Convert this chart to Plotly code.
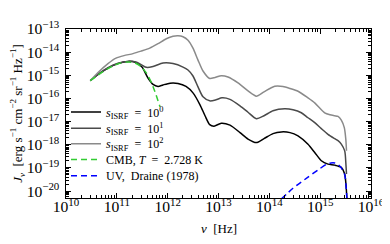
import numpy as np
import plotly.graph_objects as go

# ---- data (log10 values) ----
lognu_s1 = [10.478, 10.630, 10.826, 11.023, 11.220, 11.377, 11.495, 11.613, 11.712, 11.810,
            11.908, 12.046, 12.203, 12.361, 12.498, 12.636, 12.735, 12.827, 12.912, 13.055,
            13.226, 13.423, 13.581, 13.744, 13.895, 14.072, 14.236, 14.407, 14.564, 14.761,
            14.893, 15.023, 15.154, 15.286, 15.416, 15.483, 15.514, 15.532]
logJ_s1 = [-15.232, -14.966, -14.687, -14.494, -14.399, -14.451, -14.644, -15.116, -15.395, -15.481,
           -15.416, -15.339, -15.352, -15.481, -15.760, -16.275, -16.747, -17.133, -17.197, -17.069,
           -17.155, -17.476, -17.755, -17.906, -17.734, -17.519, -17.446, -17.476, -17.618, -17.979,
           -18.335, -18.691, -18.837, -18.880, -18.979, -19.266, -19.910, -20.600]

lognu_s10 = [10.478, 10.630, 10.826, 11.023, 11.220, 11.377, 11.495, 11.580, 11.712, 11.908,
             12.105, 12.302, 12.400, 12.498, 12.597, 12.695, 12.827, 12.951, 13.069, 13.226,
             13.423, 13.581, 13.744, 13.895, 14.072, 14.302, 14.466, 14.629, 14.761, 14.893,
             15.023, 15.154, 15.286, 15.351, 15.416, 15.483, 15.508, 15.518]
logJ_s10 = [-15.232, -14.958, -14.674, -14.481, -14.399, -14.429, -14.558, -14.657, -14.622, -14.472,
            -14.494, -14.644, -14.773, -15.030, -15.502, -15.931, -16.103, -16.060, -15.974, -16.039,
            -16.318, -16.597, -16.876, -16.747, -16.532, -16.446, -16.489, -16.618, -16.833, -17.047,
            -17.305, -17.549, -17.734, -17.820, -17.970, -18.266, -18.893, -19.266]

lognu_s100 = [10.478, 10.630, 10.826, 10.984, 11.141, 11.318, 11.476, 11.647, 11.810, 11.973,
              12.105, 12.203, 12.302, 12.400, 12.498, 12.597, 12.695, 12.827, 12.931, 13.055,
              13.187, 13.384, 13.581, 13.744, 13.895, 14.106, 14.269, 14.407, 14.564, 14.761,
              14.893, 15.089, 15.193, 15.286, 15.351, 15.416, 15.475, 15.505, 15.518]
logJ_s100 = [-15.232, -14.880, -14.494, -14.258, -14.150, -14.064, -13.957, -13.828, -13.635, -13.421,
             -13.313, -13.292, -13.335, -13.485, -13.828, -14.343, -14.815, -15.137, -15.094, -15.017,
             -15.073, -15.330, -15.674, -15.901, -15.717, -15.472, -15.481, -15.567, -15.687, -15.974,
             -16.189, -16.618, -16.704, -16.747, -16.777, -16.940, -17.262, -17.777, -18.262]

lognu_cmb = [10.478, 10.728, 10.925, 11.082, 11.220, 11.357, 11.476, 11.594, 11.692, 11.771, 11.849]
logJ_cmb = [-15.232, -14.845, -14.592, -14.464, -14.421, -14.464, -14.622, -14.944, -15.373, -15.845, -16.361]

lognu_uv = [14.236, 14.466, 14.761, 14.957, 15.121, 15.213, 15.286, 15.351, 15.416, 15.483, 15.514, 15.532]
logJ_uv = [-20.339, -19.880, -19.400, -19.090, -18.850, -18.785, -18.785, -18.850, -19.000, -19.300, -19.910, -20.567]

names = ["<i>s</i><sub>ISRF</sub>  =  10<sup>0</sup>",
         "<i>s</i><sub>ISRF</sub>  =  10<sup>1</sup>",
         "<i>s</i><sub>ISRF</sub>  =  10<sup>2</sup>",
         "CMB, <i>T</i>  =  2.728 K",
         "UV,  Draine (1978)"]
colors = ["#000000", "#4a4a4a", "#8a8a8a", "#33cc33", "#0000ff"]
dashes = ["solid", "solid", "solid", "6px,4px", "6px,4px"]
xs = [lognu_s1, lognu_s10, lognu_s100, lognu_cmb, lognu_uv]
ys = [logJ_s1, logJ_s10, logJ_s100, logJ_cmb, logJ_uv]

FONT = "Liberation Serif"
PLOT_TOP, PLOT_H = 21, 169
legend_rows_px = [104.0, 120.3, 135.8, 151.5, 167.8]

fig = go.Figure()
layout_legends = {}
for i in range(5):
    lg = "legend" if i == 0 else f"legend{i + 1}"
    fig.add_trace(go.Scatter(
        x=10 ** np.array(xs[i]), y=10 ** np.array(ys[i]), mode="lines", name=names[i],
        line=dict(color=colors[i], width=1.5, dash=dashes[i], shape="spline", smoothing=0.7),
        legend=lg,
    ))
    layout_legends[lg] = dict(
        x=0.0, y=1 - (legend_rows_px[i] - PLOT_TOP) / PLOT_H,
        xanchor="left", yanchor="middle", bgcolor="rgba(0,0,0,0)",
        font=dict(family=FONT, size=12, color="black"),
    )

axis_common = dict(
    type="log", showline=True, linecolor="black", linewidth=1.3, mirror="allticks",
    ticks="inside", ticklen=5, tickwidth=1, tickcolor="black", showgrid=False, zeroline=False,
    dtick=1, exponentformat="power", tickfont=dict(family=FONT, size=12.5, color="black"),
    minor=dict(ticks="inside", ticklen=2.5, tickwidth=0.8, tickcolor="black", showgrid=False),
    automargin=False,
)

fig.update_layout(
    width=390, height=244,
    margin=dict(l=58, r=27, t=21, b=54),
    paper_bgcolor="white", plot_bgcolor="white",
    font=dict(family=FONT, size=12, color="black"),
    showlegend=True,
    xaxis=dict(axis_common, range=[10, 16], ticklabelstandoff=-5),
    yaxis=dict(axis_common, range=[-20.3, -13], ticklabelstandoff=3,
               title=dict(text="<i>J<sub>ν</sub></i>  [erg s<sup>−1</sup> cm<sup>−2</sup> sr<sup>−1</sup> Hz<sup>−1</sup>]",
                          font=dict(family=FONT, size=13), standoff=0)),
    annotations=[dict(text="<i>ν</i>  [Hz]", xref="paper", yref="paper", x=0.5, y=-(220 - 190) / PLOT_H,
                      xanchor="center", yanchor="middle", showarrow=False,
                      font=dict(family=FONT, size=13, color="black"))],
    **layout_legends,
)

fig.write_html("out.html")
